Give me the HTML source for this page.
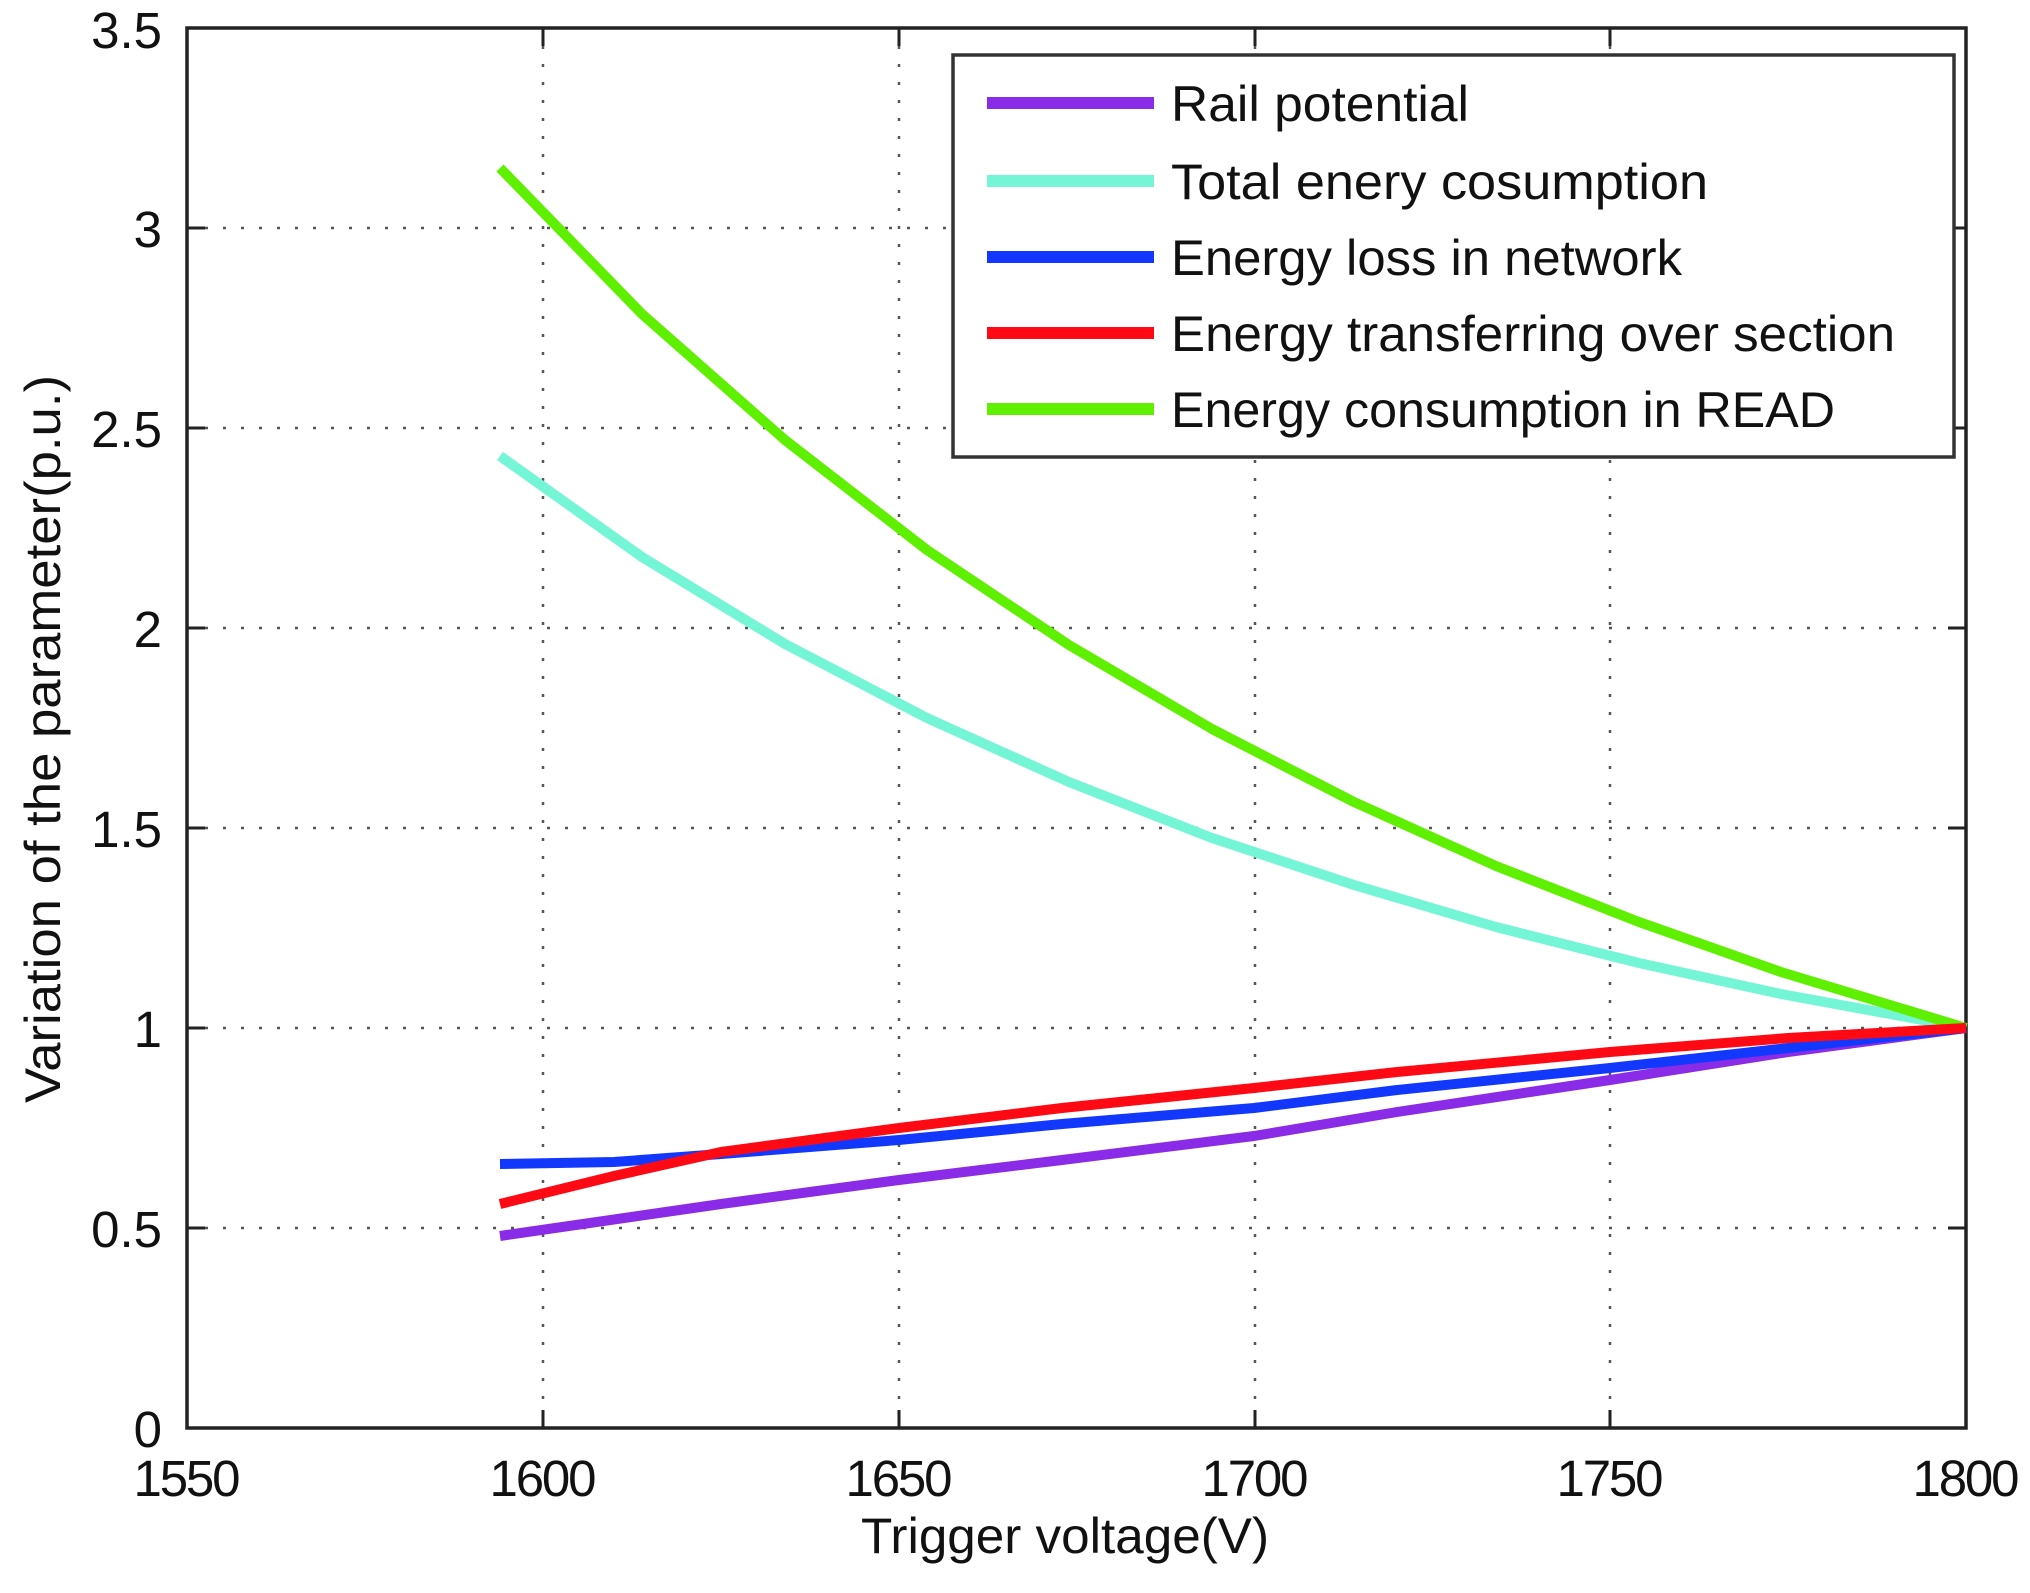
<!DOCTYPE html>
<html><head><meta charset="utf-8"><style>html,body{margin:0;padding:0;background:#fff}svg{display:block}</style></head>
<body>
<svg width="2030" height="1593" viewBox="0 0 2030 1593" xmlns="http://www.w3.org/2000/svg" font-family="Liberation Sans, sans-serif">
<rect width="2030" height="1593" fill="#fff"/>
<g stroke="#555" stroke-width="2.5" stroke-dasharray="3,15">
<line x1="543" y1="28" x2="543" y2="1428"/>
<line x1="899" y1="28" x2="899" y2="1428"/>
<line x1="1255" y1="28" x2="1255" y2="1428"/>
<line x1="1610" y1="28" x2="1610" y2="1428"/>
<line x1="187" y1="228" x2="1966" y2="228"/>
<line x1="187" y1="428" x2="1966" y2="428"/>
<line x1="187" y1="628" x2="1966" y2="628"/>
<line x1="187" y1="828" x2="1966" y2="828"/>
<line x1="187" y1="1028" x2="1966" y2="1028"/>
<line x1="187" y1="1228" x2="1966" y2="1228"/>
</g>
<g stroke="#222" stroke-width="3">
<line x1="543" y1="1428" x2="543" y2="1410"/><line x1="899" y1="1428" x2="899" y2="1410"/><line x1="1255" y1="1428" x2="1255" y2="1410"/><line x1="1610" y1="1428" x2="1610" y2="1410"/>
<line x1="543" y1="28" x2="543" y2="46"/><line x1="899" y1="28" x2="899" y2="46"/><line x1="1255" y1="28" x2="1255" y2="46"/><line x1="1610" y1="28" x2="1610" y2="46"/>
<line x1="187" y1="228" x2="205" y2="228"/><line x1="187" y1="428" x2="205" y2="428"/><line x1="187" y1="628" x2="205" y2="628"/><line x1="187" y1="828" x2="205" y2="828"/><line x1="187" y1="1028" x2="205" y2="1028"/><line x1="187" y1="1228" x2="205" y2="1228"/>
<line x1="1966" y1="228" x2="1948" y2="228"/><line x1="1966" y1="428" x2="1948" y2="428"/><line x1="1966" y1="628" x2="1948" y2="628"/><line x1="1966" y1="828" x2="1948" y2="828"/><line x1="1966" y1="1028" x2="1948" y2="1028"/><line x1="1966" y1="1228" x2="1948" y2="1228"/>
</g>
<rect x="187" y="28" width="1779" height="1400" fill="none" stroke="#222" stroke-width="3.5"/>

<g fill="none" stroke-width="10" stroke-linejoin="round">
<polyline stroke="#74f5d6" points="500,456 642,557 785,644 927,718 1069,782 1212,838 1354,885 1496,927 1639,963 1781,994 1966,1028"/>
<polyline stroke="#5ef000" points="500,168 642,314 785,440 927,550 1069,645 1212,729 1354,802 1496,866 1639,922 1781,972 1966,1028"/>
<polyline stroke="#8a2be8" points="500,1236 721,1204 899,1180 1062,1160 1254,1136 1397,1112 1610,1080 1788,1052 1966,1028"/>
<polyline stroke="#1238ff" points="500,1164 614,1162 721,1154 899,1140 1062,1124 1254,1108 1397,1090 1610,1068 1788,1048 1966,1028"/>
<polyline stroke="#ff0a14" points="500,1204 614,1176 721,1152 899,1128 1062,1108 1254,1088 1397,1072 1610,1052 1788,1038 1966,1028"/>
</g>

<g font-size="51" fill="#111" text-anchor="end">
<text x="162" y="48">3.5</text>
<text x="162" y="247">3</text>
<text x="162" y="447">2.5</text>
<text x="162" y="647">2</text>
<text x="162" y="847">1.5</text>
<text x="162" y="1047">1</text>
<text x="162" y="1247">0.5</text>
<text x="162" y="1447">0</text>
</g>
<g font-size="51" fill="#111" text-anchor="middle">
<text x="187" y="1496" textLength="107">1550</text>
<text x="543" y="1496" textLength="107">1600</text>
<text x="899" y="1496" textLength="107">1650</text>
<text x="1255" y="1496" textLength="107">1700</text>
<text x="1610" y="1496" textLength="107">1750</text>
<text x="1966" y="1496" textLength="107">1800</text>
</g>
<text x="861" y="1553" font-size="50" fill="#111" textLength="408" lengthAdjust="spacingAndGlyphs">Trigger voltage(V)</text>
<text transform="translate(60,1103) rotate(-90)" font-size="50" fill="#111" textLength="728" lengthAdjust="spacingAndGlyphs">Variation of the parameter(p.u.)</text>

<rect x="953" y="55" width="1001" height="402" fill="#fff" stroke="#333" stroke-width="3.5"/>
<g stroke-width="12">
<line x1="987" y1="103" x2="1154" y2="103" stroke="#8a2be8"/>
<line x1="987" y1="181" x2="1154" y2="181" stroke="#74f5d6"/>
<line x1="987" y1="257" x2="1154" y2="257" stroke="#1238ff"/>
<line x1="987" y1="333" x2="1154" y2="333" stroke="#ff0a14"/>
<line x1="987" y1="409" x2="1154" y2="409" stroke="#5ef000"/>
</g>
<g font-size="50" fill="#111">
<text x="1171" y="121" textLength="298" lengthAdjust="spacingAndGlyphs">Rail potential</text>
<text x="1171" y="199" textLength="537" lengthAdjust="spacingAndGlyphs">Total enery cosumption</text>
<text x="1171" y="275" textLength="511" lengthAdjust="spacingAndGlyphs">Energy loss in network</text>
<text x="1171" y="351" textLength="724" lengthAdjust="spacingAndGlyphs">Energy transferring over section</text>
<text x="1171" y="427" textLength="664" lengthAdjust="spacingAndGlyphs">Energy consumption in READ</text>
</g>
</svg>
</body></html>
